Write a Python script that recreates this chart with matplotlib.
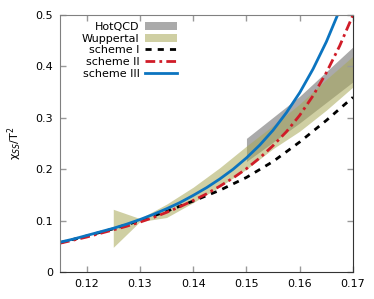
import matplotlib
matplotlib.use("Agg")
import matplotlib.pyplot as plt
import numpy as np

# HotQCD band
hot_T = [0.15, 0.16, 0.17]
hot_lo = [0.215, 0.29, 0.37]
hot_hi = [0.26, 0.342, 0.438]

# Wuppertal band
wup_T = [0.125, 0.13, 0.135, 0.14, 0.145, 0.15, 0.155, 0.16, 0.165, 0.17]
wup_lo = [0.048, 0.098, 0.106, 0.135, 0.166, 0.2, 0.24, 0.274, 0.315, 0.36]
wup_hi = [0.122, 0.104, 0.132, 0.165, 0.203, 0.245, 0.285, 0.327, 0.375, 0.42]

# model curves
s1_T = [0.115, 0.12, 0.125, 0.13, 0.135, 0.14, 0.145, 0.15, 0.155, 0.16, 0.165, 0.17]
s1_chi = [0.057, 0.07, 0.084, 0.1, 0.118, 0.138, 0.159, 0.184, 0.215, 0.253, 0.295, 0.34]

s2_T = [0.115, 0.1175, 0.12, 0.1225, 0.125, 0.1275, 0.13, 0.1325, 0.135, 0.1375,
        0.14, 0.1425, 0.145, 0.1475, 0.15, 0.1525, 0.155, 0.1575, 0.16, 0.1625,
        0.165, 0.1675, 0.17]
s2_chi = [0.056, 0.062, 0.068, 0.075, 0.082, 0.089, 0.097, 0.106, 0.116, 0.127,
          0.139, 0.152, 0.167, 0.183, 0.201, 0.222, 0.246, 0.273, 0.305, 0.343,
          0.388, 0.44, 0.5]

s3_T = [0.115, 0.1175, 0.12, 0.1225, 0.125, 0.1275, 0.13, 0.1325, 0.135, 0.1375,
        0.14, 0.1425, 0.145, 0.1475, 0.15, 0.1525, 0.155, 0.1575, 0.16, 0.1625,
        0.165, 0.1675]
s3_chi = [0.058, 0.064, 0.071, 0.078, 0.085, 0.093, 0.102, 0.112, 0.123, 0.135,
          0.149, 0.164, 0.181, 0.2, 0.222, 0.247, 0.276, 0.31, 0.349, 0.395,
          0.448, 0.51]

fig = plt.figure(figsize=(3.74, 2.99), dpi=100)
ax = fig.add_axes([0.1604, 0.0903, 0.7835, 0.8595])

ax.fill_between(hot_T, hot_lo, hot_hi, color="#aaaaaa", lw=0, label="HotQCD")
ax.fill_between(wup_T, wup_lo, wup_hi, color="#a8a858", alpha=0.55, lw=0, label="Wuppertal")
ax.plot(s1_T, s1_chi, color="black", lw=2, ls=(0, (2.2, 2.2)), label="scheme I")
ax.plot(s2_T, s2_chi, color="#d01c28", lw=2, ls=(0, (3.5, 1.5, 1, 1.5)), label="scheme II")
ax.plot(s3_T, s3_chi, color="#0b74c0", lw=2, label="scheme III")

ax.set_xlim(0.115, 0.17)
ax.set_ylim(0, 0.5)
ax.set_xticks([0.12, 0.13, 0.14, 0.15, 0.16, 0.17])
ax.set_yticks([0, 0.1, 0.2, 0.3, 0.4, 0.5])
ax.set_yticklabels(["0", "0.1", "0.2", "0.3", "0.4", "0.5"])
ax.tick_params(direction="in", top=True, right=True, length=4, width=1,
               color="#999999", labelsize=8, pad=5)
for s in ["left", "top"]:
    ax.spines[s].set_color("#808080")
for s in ["right", "bottom"]:
    ax.spines[s].set_color("#333333")
ax.set_ylabel("χ$_{SS}$/T$^2$", fontsize=8, labelpad=8)

leg = ax.legend(loc="upper left", bbox_to_anchor=(0.06, 0.99), frameon=False,
                markerfirst=False, fontsize=8, handlelength=2.9,
                handletextpad=0.5, labelspacing=0.15, borderaxespad=0.0)
for t in leg.get_texts():
    t.set_ha("right")
leg._legend_box.align = "right"

fig.savefig("out.png", dpi=100)
